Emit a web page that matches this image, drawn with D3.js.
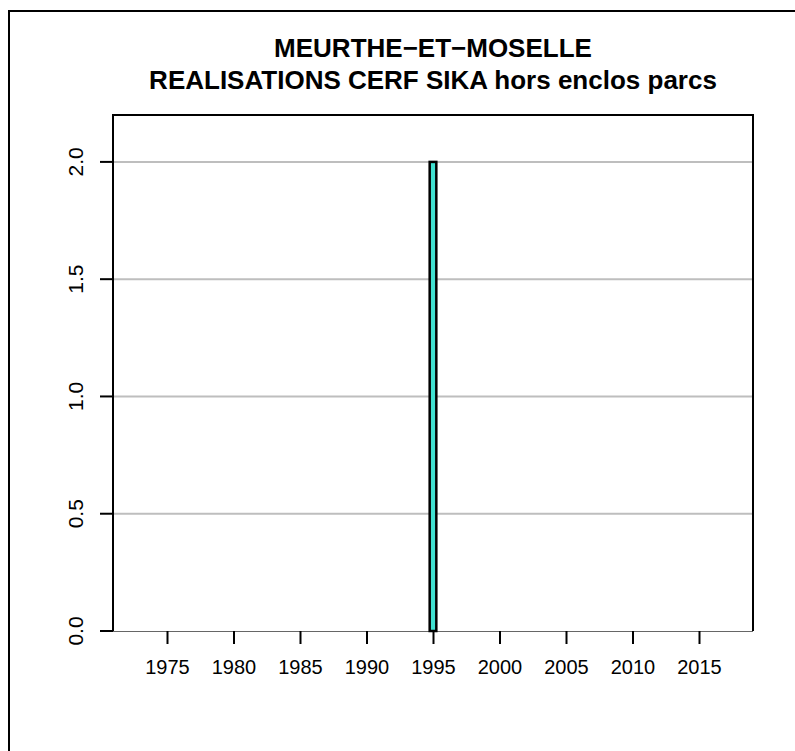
<!DOCTYPE html>
<html>
<head>
<meta charset="utf-8">
<script src="https://cdn.jsdelivr.net/npm/d3@7"></script>
<style>
  body { margin: 0; background: #fff; }
  text { font-family: "Liberation Sans", Arial, Helvetica, sans-serif; }
</style>
</head>
<body>
<div id="chart"></div>
<script>
// data
var years = d3.range(1973, 2018);
var realisations = [0,0,0,0,0,0,0,0,0,0, 0,0,0,0,0,0,0,0,0,0, 0,0,2,0,0,0,0,0,0,0, 0,0,0,0,0,0,0,0,0,0, 0,0,0,0,0];
var xTicks = [1975, 1980, 1985, 1990, 1995, 2000, 2005, 2010, 2015];
var yTicks = [0, 0.5, 1, 1.5, 2];
var titleLines = ["MEURTHE\u2212ET\u2212MOSELLE", "REALISATIONS CERF SIKA hors enclos parcs"];

var W = 795, H = 751;
// plot area (don't call it "top", that's window.top)
var pL = 113, pR = 753, pT = 115, pB = 631;

var svg = d3.select("#chart").append("svg")
    .attr("width", W)
    .attr("height", H);

// outer frame
svg.append("rect")
    .attr("x", 9).attr("y", 11)
    .attr("width", 800).attr("height", 800)
    .attr("fill", "none")
    .attr("stroke", "#000")
    .attr("stroke-width", 2);

var x = d3.scaleLinear().domain([1970.94, 2019.06]).range([pL, pR]);
var y = d3.scaleLinear().domain([0, 2.2]).range([pB, pT]);
var barW = (x(1974) - x(1973)) * 0.5;

// grid
svg.append("g").selectAll("line")
    .data(yTicks.filter(function(d){ return d > 0; }))
    .enter().append("line")
    .attr("x1", pL).attr("x2", pR)
    .attr("y1", function(d){ return y(d); })
    .attr("y2", function(d){ return y(d); })
    .attr("stroke", "#bebebe")
    .attr("stroke-width", 2);

// baseline
svg.append("line")
    .attr("x1", pL).attr("x2", pR)
    .attr("y1", pB + 0.5).attr("y2", pB + 0.5)
    .attr("stroke", "#666")
    .attr("stroke-width", 1);

// bars
svg.append("g").selectAll("rect")
    .data(years.map(function(d, i){ return {year: d, v: realisations[i]}; }))
    .enter().append("rect")
    .attr("x", function(d){ return x(d.year) - barW / 2; })
    .attr("width", barW)
    .attr("y", function(d){ return y(d.v); })
    .attr("height", function(d){ return y(0) - y(d.v); })
    .attr("fill", "#40e0d0")
    .attr("stroke", "#000")
    .attr("stroke-width", 2.5);

// box (left, top, right)
svg.append("path")
    .attr("d", "M" + pL + "," + pB + "V" + pT + "H" + pR + "V" + pB)
    .attr("fill", "none")
    .attr("stroke", "#000")
    .attr("stroke-width", 2);

// x axis
var xAxis = svg.append("g")
    .attr("transform", "translate(0," + pB + ")")
    .call(d3.axisBottom(x).tickValues(xTicks).tickFormat(d3.format("d")).tickSize(13).tickPadding(16));
xAxis.select(".domain").remove();
xAxis.selectAll("line").attr("stroke-width", 2);
xAxis.selectAll("text").attr("font-size", 20).attr("fill", "#000");

// y axis
var yAxis = svg.append("g")
    .attr("transform", "translate(" + pL + ",0)")
    .call(d3.axisLeft(y).tickValues(yTicks).tickFormat(d3.format(".1f")).tickSize(13).tickPadding(0));
yAxis.select(".domain").remove();
yAxis.selectAll("line").attr("stroke-width", 2);
yAxis.selectAll("text")
    .attr("font-size", 21)
    .attr("fill", "#000")
    .attr("x", 0).attr("dy", "0.35em")
    .attr("text-anchor", "middle")
    .attr("transform", function(d){ return "translate(-37," + y(d) + ") rotate(-90)"; })
    .attr("y", 0);
yAxis.selectAll(".tick").attr("transform", null);
yAxis.selectAll(".tick line")
    .attr("y1", function(d){ return y(d); })
    .attr("y2", function(d){ return y(d); });

// title
svg.append("g").selectAll("text")
    .data(titleLines)
    .enter().append("text")
    .attr("x", (pL + pR) / 2)
    .attr("y", function(d, i){ return 57 + i * 32; })
    .attr("text-anchor", "middle")
    .attr("font-size", 26)
    .attr("font-weight", "bold")
    .text(function(d){ return d; });
</script>
</body>
</html>
